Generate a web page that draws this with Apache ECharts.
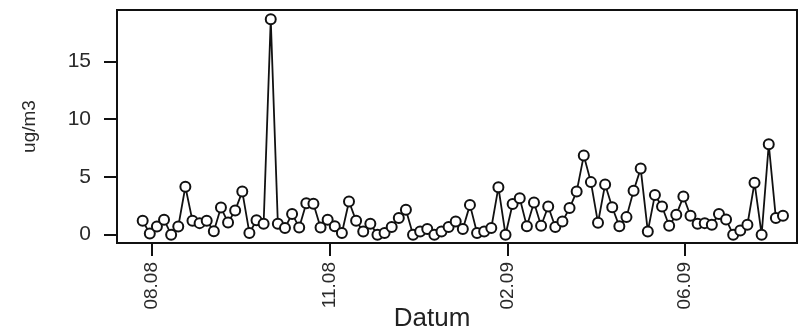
<!DOCTYPE html>
<html>
<head>
<meta charset="utf-8">
<script src="https://cdn.jsdelivr.net/npm/echarts@6/dist/echarts.min.js"></script>
<style>
html,body{margin:0;padding:0;background:#fff;}
#chart{width:799px;height:331px;}
</style>
</head>
<body>
<div id="chart"></div>
<script>
// measurement values (ug/m3), in sampling order
var values = [
  1.2, 0.1, 0.7, 1.3, 0.0, 0.7, 4.15, 1.2, 1.0, 1.2,
  0.3, 2.35, 1.05, 2.1, 3.73, 0.15, 1.25, 0.95, 18.65, 0.95,
  0.58, 1.8, 0.63, 2.73, 2.67, 0.63, 1.29, 0.72, 0.15, 2.87,
  1.2, 0.28, 0.95, 0.0, 0.15, 0.66, 1.44, 2.15, 0.0, 0.28,
  0.49, 0.0, 0.28, 0.66, 1.14, 0.49, 2.58, 0.15, 0.28, 0.58,
  4.1, 0.0, 2.65, 3.16, 0.72, 2.78, 0.77, 2.44, 0.66, 1.14,
  2.3, 3.73, 6.85, 4.55, 1.03, 4.35, 2.38, 0.72, 1.52, 3.81,
  5.72, 0.28, 3.44, 2.44, 0.77, 1.72, 3.3, 1.64, 0.95, 1.0,
  0.86, 1.8, 1.32, 0.0, 0.37, 0.86, 4.5, 0.0, 7.83, 1.44,
  1.64
];
// x tick positions (sample index) and their date labels
var xTickPositions = [1.25, 26.25, 51.25, 76.25];
var xTickLabels = ["08.08", "11.08", "02.09", "06.09"];
var yTickValues = [0, 5, 10, 15];
var xTitle = "Datum";
var yTitle = "ug/m3";

var points = values.map(function (v, i) { return [i, v]; });
var labelFor = {};
xTickPositions.forEach(function (p, i) { labelFor[p] = xTickLabels[i]; });

var font = "'Liberation Sans', Arial, sans-serif";
var chart = echarts.init(document.getElementById('chart'), null, {renderer: 'canvas'});
chart.setOption({
  animation: false,
  backgroundColor: '#fff',
  grid: {
    left: 117, right: 2, top: 10, bottom: 88,
    outerBoundsMode: 'none',
    containLabel: false,
    show: true, borderColor: '#111', borderWidth: 2, backgroundColor: 'transparent'
  },
  xAxis: {
    type: 'value',
    min: -3.61, max: 91.97,
    name: xTitle,
    nameLocation: 'middle',
    nameGap: 63,
    nameMoveOverlap: false,
    nameTextStyle: {fontFamily: font, fontSize: 26, color: '#222', padding: [0, 50, 0, 0]},
    axisLine: {show: true, onZero: false, lineStyle: {color: '#111', width: 2}},
    axisTick: {show: true, inside: false, length: 13, lineStyle: {color: '#111', width: 2},
      customValues: xTickPositions},
    axisLabel: {
      show: true, rotate: 90, margin: 19,
      fontFamily: font, fontSize: 19, color: '#2a2a2a',
      customValues: xTickPositions,
      formatter: function (v) { return labelFor[v] !== undefined ? labelFor[v] : ''; }
    },
    splitLine: {show: false}
  },
  yAxis: {
    type: 'value',
    min: -0.72, max: 19.45,
    name: yTitle,
    nameLocation: 'middle',
    nameRotate: 90,
    nameGap: 78,
    nameMoveOverlap: false,
    nameTextStyle: {fontFamily: font, fontSize: 19, color: '#2a2a2a'},
    axisLine: {show: true, onZero: false, lineStyle: {color: '#111', width: 2}},
    axisTick: {show: true, inside: false, length: 13, lineStyle: {color: '#111', width: 2},
      customValues: yTickValues},
    axisLabel: {
      show: true, margin: 26,
      fontFamily: font, fontSize: 21, color: '#2a2a2a',
      customValues: yTickValues
    },
    splitLine: {show: false}
  },
  series: [{
    type: 'line',
    data: points,
    symbol: 'emptyCircle',
    symbolSize: 10,
    showAllSymbol: true,
    lineStyle: {color: '#111', width: 1.8},
    itemStyle: {color: '#111', borderColor: '#111', borderWidth: 1.8},
    emphasis: {disabled: true}
  }]
});
</script>
</body>
</html>
